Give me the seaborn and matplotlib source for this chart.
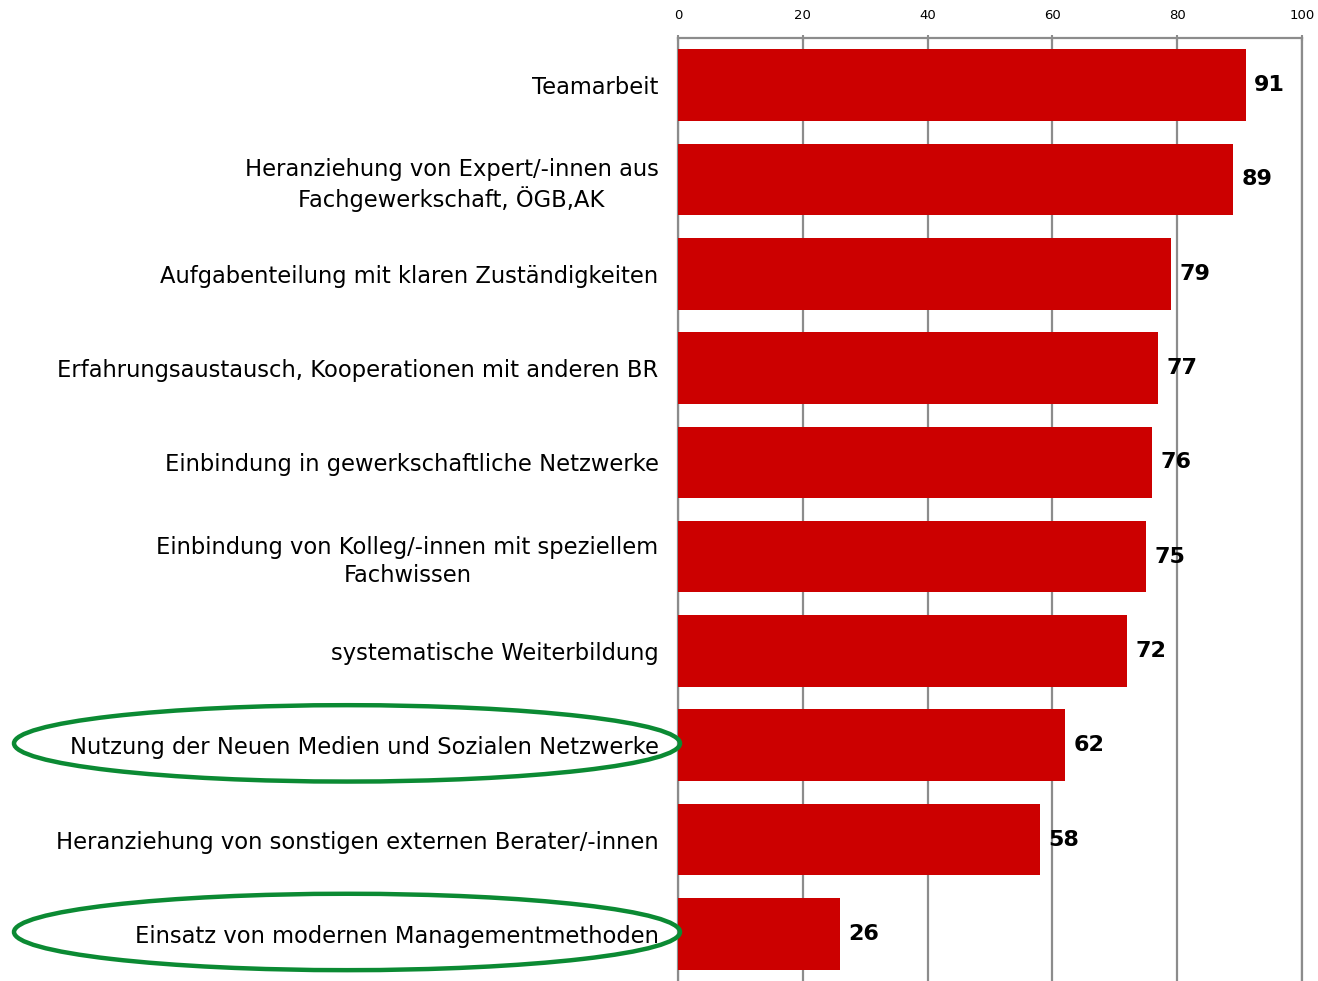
import matplotlib
matplotlib.use('Agg')
import matplotlib.pyplot as plt
import matplotlib.transforms as mtransforms
from matplotlib.patches import Ellipse
import seaborn as sns
import pandas as pd

categories = [
    'Teamarbeit',
    'Heranziehung von Expert/-innen aus\nFachgewerkschaft, ÖGB,AK',
    'Aufgabenteilung mit klaren Zuständigkeiten',
    'Erfahrungsaustausch, Kooperationen mit anderen BR',
    'Einbindung in gewerkschaftliche Netzwerke',
    'Einbindung von Kolleg/-innen mit speziellem\nFachwissen',
    'systematische Weiterbildung',
    'Nutzung der Neuen Medien und Sozialen Netzwerke',
    'Heranziehung von sonstigen externen Berater/-innen',
    'Einsatz von modernen Managementmethoden',
]
values = [91, 89, 79, 77, 76, 75, 72, 62, 58, 26]
highlighted = [7, 9]
x_ticks = [0, 20, 40, 60, 80, 100]

df = pd.DataFrame({'label': categories, 'value': values})

sns.set_style('white')
plt.rcParams['font.family'] = ['DejaVu Sans']

fig = plt.figure(figsize=(13.18, 9.81), dpi=100)
ax = fig.add_axes([678 / 1318, 0.0, 624 / 1318, 1 - 38 / 981])

sns.barplot(data=df, x='value', y='label', orient='h', color='#CC0000',
            saturation=1, width=0.76, linewidth=0, ax=ax, zorder=3)

ax.set_xlim(0, 100)
ax.set_ylim(len(categories) - 0.5, -0.5)
ax.xaxis.tick_top()
ax.set_xticks(x_ticks)
ax.set_xticklabels([str(t) for t in x_ticks], fontsize=9.5, color='black')
ax.tick_params(axis='x', direction='inout', length=5, width=1.5, color='#8c8c8c', pad=9)
ax.tick_params(axis='y', length=0, pad=14, labelsize=16.3, labelcolor='black')
for lab in ax.get_yticklabels():
    lab.set_horizontalalignment('center')
    lab.set_multialignment('center')
    lab.set_linespacing(1.25)
ax.set_xlabel('')
ax.set_ylabel('')

ax.grid(axis='x', color='#8c8c8c', linewidth=1.6, zorder=0)
ax.set_axisbelow(True)
for side in ['top', 'left', 'right']:
    ax.spines[side].set_color('#8c8c8c')
    ax.spines[side].set_linewidth(1.6)
ax.spines['bottom'].set_visible(False)

# labels are right-aligned; multi-line text stays centred within the block
fig.canvas.draw()
for lab in ax.get_yticklabels():
    lab.set_horizontalalignment('right')

for i, v in enumerate(values):
    ax.annotate(str(v), xy=(v, i), xytext=(6, 0), textcoords='offset points',
                va='center', ha='left', fontsize=16, fontweight='bold', color='black')

trans = mtransforms.blended_transform_factory(fig.transFigure, ax.transData)
for i in highlighted:
    ell = Ellipse((347 / 1318, i - 0.02), width=666 / 1318, height=0.81, transform=trans,
                  fill=False, edgecolor='#0B8A33', linewidth=3.2, clip_on=False, zorder=5)
    ax.add_patch(ell)

fig.savefig('out.png', dpi=100)
